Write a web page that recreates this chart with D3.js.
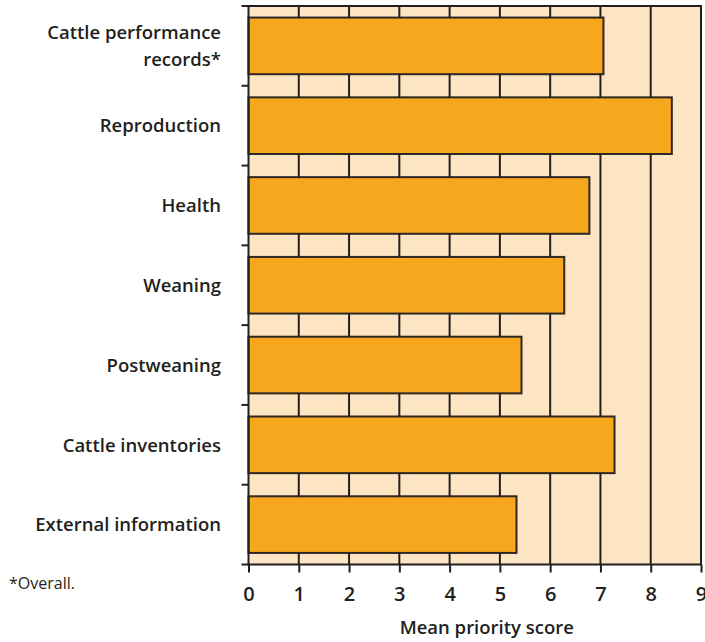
<!DOCTYPE html>
<html>
<head>
<meta charset="utf-8">
<script src="https://cdn.jsdelivr.net/npm/d3@7"></script>
<style>
  body { margin: 0; background: #fff; }
  svg { display: block; }
  text { font-family: "Open Sans", "Noto Sans", sans-serif; fill: #231f20; }
</style>
</head>
<body>
<svg id="chart" width="705" height="642"></svg>
<script>
const categories = [
  ["Cattle performance", "records*"],
  ["Reproduction"],
  ["Health"],
  ["Weaning"],
  ["Postweaning"],
  ["Cattle inventories"],
  ["External information"]
];
const values = [7.06, 8.42, 6.78, 6.28, 5.43, 7.28, 5.33];
const xTicks = [0, 1, 2, 3, 4, 5, 6, 7, 8, 9];
const xTitle = "Mean priority score";
const footnote = "*Overall.";

(function () {
const svg = d3.select("#chart");
const pLeft = 248.5, pRight = 701, pTop = 6, pBottom = 564.5;
const ink = "#231f20";

const x = d3.scaleLinear().domain([0, 9]).range([pLeft, pRight]);
const keys = categories.map((c, i) => i);
const y = d3.scaleBand().domain(keys).range([pTop, pBottom]).paddingInner(0.29).paddingOuter(0.145);

// background
svg.append("rect").attr("x", pLeft).attr("y", pTop)
  .attr("width", pRight - pLeft).attr("height", pBottom - pTop)
  .attr("fill", "#fde4c3");

// vertical grid
svg.append("g").selectAll("line").data(xTicks.slice(1)).join("line")
  .attr("x1", d => x(d)).attr("x2", d => x(d))
  .attr("y1", pTop).attr("y2", pBottom)
  .attr("stroke", ink).attr("stroke-width", 2);

// top border
svg.append("line").attr("x1", pLeft - 7).attr("x2", pRight + 1)
  .attr("y1", pTop).attr("y2", pTop).attr("stroke", ink).attr("stroke-width", 2);

// bars
svg.append("g").selectAll("rect").data(values).join("rect")
  .attr("x", x(0)).attr("y", (d, i) => y(i))
  .attr("width", d => x(d) - x(0)).attr("height", y.bandwidth())
  .attr("fill", "#f7a71e").attr("stroke", ink).attr("stroke-width", 2)
  .attr("stroke-opacity", 0.95);

// y axis line and ticks at band boundaries
const bounds = d3.range(categories.length + 1).map(i => pTop + i * (pBottom - pTop) / categories.length);
svg.append("line").attr("x1", pLeft).attr("x2", pLeft).attr("y1", pTop).attr("y2", pBottom + 1)
  .attr("stroke", ink).attr("stroke-width", 2);
svg.append("g").selectAll("line").data(bounds.slice(1)).join("line")
  .attr("x1", pLeft - 7).attr("x2", pLeft).attr("y1", d => d).attr("y2", d => d)
  .attr("stroke", ink).attr("stroke-width", 2);

// x axis
const xAxis = svg.append("g").attr("transform", `translate(0,${pBottom})`)
  .call(d3.axisBottom(x).tickValues(xTicks).tickSize(8).tickPadding(14).tickFormat(d3.format("d")));
xAxis.select(".domain").attr("stroke", ink).attr("stroke-width", 2).attr("d", `M${pLeft},0H${pRight + 1}`);
xAxis.selectAll(".tick line").attr("stroke", ink).attr("stroke-width", 2);
xAxis.selectAll(".tick text").attr("font-size", 20).attr("font-weight", 600)
  .attr("font-family", "'Open Sans', sans-serif").attr("fill", ink);

// category labels
const lab = svg.append("g").selectAll("text").data(categories).join("text")
  .attr("text-anchor", "end").attr("font-size", 18.5).attr("font-weight", 600)
  .attr("x", 221)
  .attr("y", (d, i) => y(i) + y.bandwidth() / 2 + 6.8);
lab.each(function (d) {
  const t = d3.select(this);
  const n = d.length;
  d.forEach((line, j) => {
    t.append("tspan").attr("x", 221)
      .attr("dy", j === 0 ? (-(n - 1) * 13.5) : 27)
      .text(line);
  });
});

// axis title
svg.append("text").attr("x", (pLeft + pRight) / 2 + 12).attr("y", 634)
  .attr("text-anchor", "middle").attr("font-size", 18.5).attr("font-weight", 600)
  .text(xTitle);

// footnote
svg.append("text").attr("x", 9).attr("y", 589)
  .attr("font-size", 16).text(footnote);
})();
</script>
</body>
</html>
